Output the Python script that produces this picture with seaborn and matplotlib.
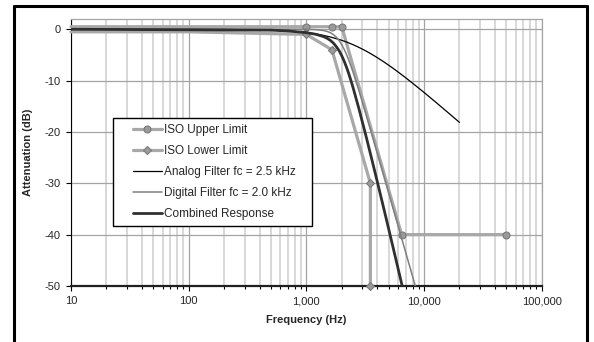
import matplotlib
matplotlib.use("Agg")

import matplotlib.pyplot as plt
import matplotlib.ticker as mticker
from matplotlib.lines import Line2D
from matplotlib.patches import Rectangle
import seaborn as sns

# =====================
# DATA
# =====================
upper_f = [10, 1000, 1650, 2000, 6450, 50000]
upper_db = [0.5, 0.5, 0.5, 0.5, -40, -40]

lower_f = [10, 100, 1000, 1650, 3500, 3500]
lower_db = [-0.5, -0.5, -1, -4, -30, -50]

analog_f = [10, 100, 200, 500, 700, 1000, 1200, 1400, 1600, 1800, 2000, 2200,
            2500, 2800, 3200, 3600, 4000, 4500, 5000, 5600, 6300, 7100, 8000,
            9000, 10000, 12500, 16000, 20000]
analog_db = [0, -0.01, -0.03, -0.17, -0.33, -0.64, -0.90, -1.19, -1.50, -1.84,
             -2.15, -2.49, -3.01, -3.53, -4.21, -4.88, -5.51, -6.27, -6.99,
             -7.79, -8.66, -9.57, -10.51, -11.45, -12.30, -14.15, -16.23, -18.13]

digital_f = [10, 500, 700, 1000, 1200, 1400, 1500, 1600, 1700, 1800, 1900, 2000,
             2100, 2200, 2300, 2400, 2500, 2800, 3200, 3600, 4000, 4500, 5000,
             5600, 6300, 7100, 8000, 9000]
digital_db = [0, 0, 0, -0.02, -0.07, -0.24, -0.41, -0.67, -1.05, -1.56, -2.21,
              -3.01, -3.94, -4.97, -6.08, -7.24, -8.43, -11.98, -16.43, -20.46,
              -24.10, -28.18, -31.84, -35.78, -39.87, -44.02, -48.16, -52.26]

combined_f = [10, 500, 700, 1000, 1200, 1400, 1500, 1600, 1700, 1800, 1900, 2000,
              2100, 2200, 2300, 2400, 2500, 2800, 3200, 3600, 4000, 4500, 5000,
              5600, 6300, 7100]
combined_db = [0, -0.17, -0.33, -0.66, -0.97, -1.43, -1.75, -2.17, -2.70, -3.40,
               -4.19, -5.16, -6.26, -7.46, -8.74, -10.08, -11.44, -15.51, -20.64,
               -25.34, -29.61, -34.45, -38.83, -43.57, -48.53, -53.59]

labels = ["ISO Upper Limit", "ISO Lower Limit", "Analog Filter fc = 2.5 kHz",
          "Digital Filter fc = 2.0 kHz", "Combined Response"]
x_ticks = [10, 100, 1000, 10000, 100000]
y_ticks = [0, -10, -20, -30, -40, -50]

# =====================
# STYLE
# =====================
sns.set_style("white")
plt.rcParams["font.family"] = ["Liberation Sans", "DejaVu Sans"]
plt.rcParams["axes.unicode_minus"] = False

iso_col = "#a8a8a8"
mk_face = "#9a9a9a"
mk_edge = "#7a7a7a"

fig = plt.figure(figsize=(5.94, 3.42), dpi=100)
ax = fig.add_axes([71 / 594, 1 - 286 / 342, 470.7 / 594, 267 / 342])

# =====================
# SERIES
# =====================
sns.lineplot(x=upper_f, y=upper_db, ax=ax, sort=False, estimator=None,
             color=iso_col, lw=2.3, marker="o", ms=5, mfc=mk_face, mec=mk_edge,
             mew=0.8, markevery=list(range(1, len(upper_f))), clip_on=False, zorder=3)
sns.lineplot(x=lower_f, y=lower_db, ax=ax, sort=False, estimator=None,
             color=iso_col, lw=2.3, marker="D", ms=3.6, mfc=mk_face, mec=mk_edge,
             mew=0.8, markevery=list(range(2, len(lower_f))), clip_on=False, zorder=3)
sns.lineplot(x=analog_f, y=analog_db, ax=ax, sort=False, estimator=None,
             color="black", lw=0.9, zorder=4)
sns.lineplot(x=digital_f, y=digital_db, ax=ax, sort=False, estimator=None,
             color="#7f7f7f", lw=1.1, zorder=4)
sns.lineplot(x=combined_f, y=combined_db, ax=ax, sort=False, estimator=None,
             color="#303030", lw=2.0, zorder=5)

# =====================
# AXES
# =====================
ax.set_xscale("log")
ax.set_xlim(10, 100000)
ax.set_ylim(-50, 2)
ax.set_xticks(x_ticks)
ax.set_yticks(y_ticks)
ax.xaxis.set_major_formatter(mticker.FuncFormatter(lambda v, p: f"{v:,.0f}"))
ax.xaxis.set_minor_locator(mticker.LogLocator(base=10, subs=range(2, 10)))
ax.xaxis.set_minor_formatter(mticker.NullFormatter())

ax.set_axisbelow(True)
ax.grid(which="minor", axis="x", color="#d6d6d6", lw=1.3)
ax.grid(which="major", axis="both", color="#a4a4a4", lw=0.9)

ax.tick_params(axis="both", which="major", labelsize=8, direction="out",
               length=3.5, width=0.8, color="black", pad=4)
ax.tick_params(axis="x", which="minor", direction="out", length=2, width=0.8,
               color="black")
ax.tick_params(axis="y", left=True)
ax.tick_params(axis="x", bottom=True, which="both")

for s in ["top", "right"]:
    ax.spines[s].set_color("#a4a4a4")
    ax.spines[s].set_linewidth(0.9)
ax.spines["left"].set_color("black")
ax.spines["left"].set_linewidth(0.8)
ax.spines["bottom"].set_color("#202020")
ax.spines["bottom"].set_linewidth(1.6)

ax.set_xlabel("Frequency (Hz)", fontsize=8, fontweight="bold", labelpad=6)
ax.set_ylabel("Attenuation (dB)", fontsize=8, fontweight="bold", labelpad=8)

# =====================
# LEGEND
# =====================
ax.add_patch(Rectangle((42 / 470.7, 60 / 267), 199 / 470.7, 108 / 267,
                       transform=ax.transAxes, facecolor="white",
                       edgecolor="black", lw=1.0, zorder=2.5))
handles = [
    Line2D([], [], color=iso_col, lw=2.3, marker="o", ms=5, mfc=mk_face, mec=mk_edge, mew=0.8),
    Line2D([], [], color=iso_col, lw=2.3, marker="D", ms=3.6, mfc=mk_face, mec=mk_edge, mew=0.8),
    Line2D([], [], color="black", lw=0.9),
    Line2D([], [], color="#7f7f7f", lw=1.1),
    Line2D([], [], color="#303030", lw=2.0),
]
ax.legend(handles, labels, loc="upper left", bbox_to_anchor=(62 / 470.7, 162 / 267),
          frameon=False, fontsize=8.5, borderpad=0, borderaxespad=0,
          handlelength=2.45, handletextpad=0.2, labelspacing=0.77)

# =====================
# OUTER FRAME
# =====================
fw = 2.2
fig.add_artist(Line2D([13.5 / 594, 13.5 / 594], [0, 1 - 6 / 342], color="black", lw=fw,
                      transform=fig.transFigure))
fig.add_artist(Line2D([13.5 / 594, 587 / 594], [1 - 6 / 342, 1 - 6 / 342], color="black",
                      lw=fw, transform=fig.transFigure))
fig.add_artist(Line2D([587 / 594, 587 / 594], [0, 1 - 6 / 342], color="black", lw=fw,
                      transform=fig.transFigure))

fig.savefig("out.png", dpi=100)
plt.close(fig)
